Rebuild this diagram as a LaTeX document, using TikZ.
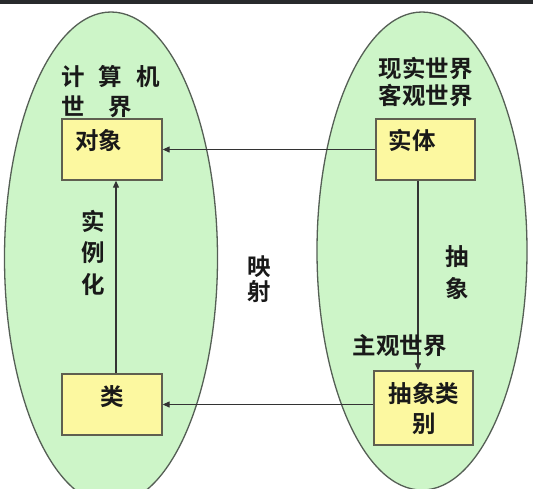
\documentclass[tikz,border=0pt]{standalone}
\usepackage{fontspec}
\newfontfamily\cjk{Noto Sans CJK SC Bold}
\usetikzlibrary{arrows.meta}
\definecolor{ellfill}{RGB}{205,245,200}
\definecolor{ellline}{RGB}{85,95,85}
\definecolor{boxfill}{RGB}{252,248,160}
\definecolor{boxline}{RGB}{95,95,80}
\definecolor{txtcol}{RGB}{25,25,25}
\definecolor{topbar}{RGB}{40,42,44}
\begin{document}
\begin{tikzpicture}[x=1pt,y=-1pt,
  ell/.style={fill=ellfill,draw=ellline,line width=1.3pt},
  boxnode/.style={rectangle,fill=boxfill,draw=boxline,line width=1.3pt,inner sep=0pt},
  txt/.style={inner sep=0pt,text=txtcol,font=\cjk\fontsize{23.5}{28}\selectfont,align=center},
  arr/.style={draw=black!80,line width=1.1pt,-{Triangle[length=7pt,width=6pt]}}]
\useasboundingbox (0,0) rectangle (533,488);
\begin{scope}
\clip (0,0) rectangle (533,488);
\fill[white] (0,0) rectangle (533,488);
\fill[topbar] (0,0) rectangle (533,3.5);
\draw[ell] (111,258) ellipse [x radius=106.5pt, y radius=246pt];
\draw[ell] (422,251) ellipse [x radius=105pt, y radius=239pt];
\end{scope}
% boxes
\node[boxnode,minimum width=100pt,minimum height=61pt] (obj) at (112,149.5) {};
\node[boxnode,minimum width=99pt,minimum height=61pt] (ent) at (425.5,149.5) {};
\node[boxnode,minimum width=100pt,minimum height=61pt] (cls) at (112,404.5) {};
\node[boxnode,minimum width=99pt,minimum height=74pt] (abs) at (423.5,408) {};
% connectors
\draw[arr] (ent.west) -- (obj.east);
\draw[arr] (abs.west |- cls.east) -- (cls.east);
\draw[arr] ([xshift=4pt]cls.north) -- ([xshift=4pt]obj.south);
\draw[arr] ([xshift=-7.5pt]ent.south) -- ([xshift=-7.5pt]ent.south |- abs.north);
% texts
\node[txt,anchor=west] (c1) at (61,76.5) {计\hspace{14pt}算\hspace{14pt}机};
\node[txt,anchor=west] (c2) at (61,107) {世\hspace{24pt}界};
\node[txt] (r1) at (425.5,68) {现实世界};
\node[txt] (r2) at (425.5,95) {客观世界};
\node[txt] (objt) at (98.5,141) {对象};
\node[txt] (entt) at (412,140) {实体};
\node[txt] (clst) at (112,397) {类};
\node[txt,font=\cjk\fontsize{23.5}{30}\selectfont] (abst) at (424,409) {抽象类\\别};
\node[txt,font=\cjk\fontsize{23.5}{31.5}\selectfont] (inst) at (93.5,252.5) {实\\例\\化};
\node[txt,font=\cjk\fontsize{23.5}{25}\selectfont] (map) at (259.5,279.5) {映\\射};
\node[txt,font=\cjk\fontsize{23.5}{32}\selectfont] (abstr) at (457.5,273) {抽\\象};
\node[txt] (subj) at (399.5,346) {主观世界};
\end{tikzpicture}
\end{document}
